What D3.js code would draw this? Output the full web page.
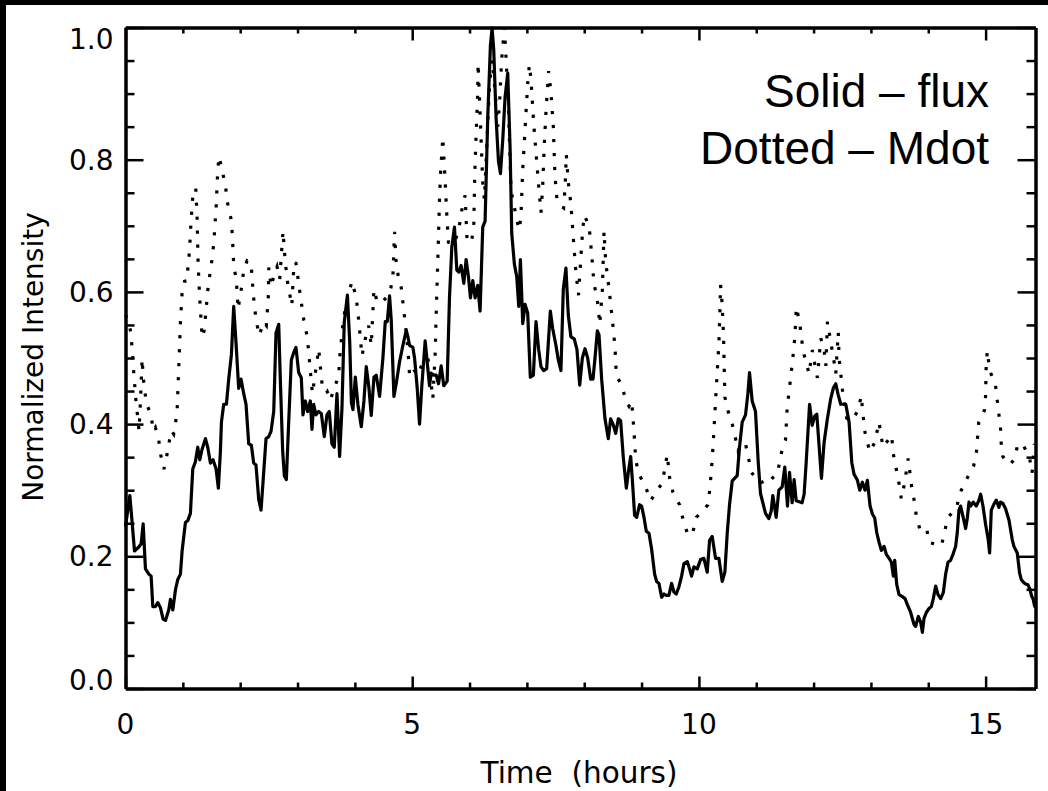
<!DOCTYPE html>
<html><head><meta charset="utf-8">
<script src="https://cdn.jsdelivr.net/npm/d3@7"></script>
<style>html,body{margin:0;padding:0;background:#fff;overflow:hidden}svg{display:block}</style>
</head><body>
<svg id="c" width="1048" height="791"></svg>
<script>
// ---- data ----
const fluxTime = [0.00,0.075,0.116,0.157,0.232,0.273,0.308,0.348,0.407,0.447,0.476,0.523,0.563,0.610,0.656,0.697,0.755,0.784,0.825,0.871,0.912,0.958,0.987,1.045,1.086,1.132,1.173,1.219,1.260,1.295,1.336,1.394,1.434,1.481,1.527,1.580,1.620,1.655,1.673,1.713,1.760,1.800,1.847,1.887,1.928,1.974,2.015,2.062,2.102,2.149,2.195,2.236,2.276,2.323,2.364,2.410,2.451,2.497,2.538,2.585,2.625,2.672,2.700,2.741,2.770,2.805,2.846,2.892,2.933,2.973,3.020,3.066,3.095,3.136,3.177,3.223,3.252,3.281,3.322,3.368,3.415,3.467,3.513,3.554,3.600,3.641,3.688,3.734,3.775,3.815,3.870,3.910,3.940,3.967,4.008,4.054,4.112,4.158,4.199,4.245,4.286,4.333,4.373,4.431,4.489,4.530,4.565,4.605,4.634,4.681,4.721,4.779,4.837,4.896,4.925,4.954,5.012,5.041,5.087,5.128,5.168,5.226,5.261,5.302,5.331,5.377,5.418,5.459,5.505,5.551,5.610,5.650,5.691,5.737,5.778,5.813,5.853,5.900,5.940,5.981,6.016,6.057,6.097,6.143,6.184,6.230,6.271,6.317,6.364,6.393,6.422,6.463,6.504,6.539,6.579,6.620,6.666,6.707,6.736,6.782,6.823,6.858,6.887,6.928,6.968,7.014,7.060,7.113,7.159,7.205,7.246,7.292,7.345,7.409,7.449,7.507,7.548,7.594,7.635,7.681,7.722,7.768,7.826,7.873,7.921,7.967,8.014,8.060,8.113,8.153,8.188,8.229,8.258,8.304,8.362,8.420,8.461,8.502,8.548,8.595,8.635,8.682,8.734,8.769,8.810,8.839,8.879,8.914,8.966,9.001,9.042,9.082,9.129,9.175,9.228,9.262,9.303,9.350,9.390,9.431,9.477,9.524,9.564,9.605,9.652,9.698,9.739,9.797,9.837,9.872,9.913,9.971,10.029,10.087,10.145,10.186,10.232,10.290,10.348,10.407,10.453,10.494,10.534,10.581,10.668,10.708,10.755,10.813,10.854,10.883,10.929,10.987,11.034,11.074,11.115,11.161,11.220,11.260,11.289,11.347,11.394,11.452,11.498,11.545,11.580,11.626,11.661,11.696,11.800,11.835,11.870,11.930,11.975,12.020,12.056,12.096,12.137,12.184,12.242,12.300,12.346,12.387,12.427,12.474,12.561,12.619,12.666,12.706,12.764,12.805,12.851,12.898,12.938,12.985,13.026,13.066,13.101,13.142,13.182,13.229,13.269,13.316,13.357,13.391,13.415,13.449,13.490,13.548,13.595,13.635,13.693,13.751,13.780,13.827,13.868,13.897,13.926,13.966,14.013,14.053,14.088,14.129,14.170,14.216,14.262,14.303,14.344,14.390,14.431,14.477,14.506,14.535,14.564,14.611,14.652,14.681,14.710,14.739,14.785,14.837,14.884,14.913,14.954,15.000,15.046,15.070,15.099,15.145,15.186,15.232,15.261,15.302,15.348,15.407,15.465,15.494,15.552,15.592,15.621,15.668,15.697,15.738,15.773,15.802,15.830,15.853,15.871];
const fluxValue = [0.245,0.292,0.251,0.208,0.214,0.219,0.249,0.181,0.173,0.170,0.124,0.124,0.130,0.122,0.105,0.103,0.119,0.135,0.119,0.149,0.165,0.173,0.208,0.251,0.254,0.265,0.332,0.343,0.365,0.346,0.362,0.378,0.365,0.341,0.346,0.332,0.303,0.359,0.403,0.430,0.430,0.468,0.505,0.578,0.522,0.454,0.468,0.446,0.430,0.370,0.368,0.341,0.338,0.286,0.270,0.327,0.378,0.381,0.389,0.419,0.538,0.551,0.468,0.359,0.322,0.316,0.403,0.497,0.508,0.516,0.478,0.470,0.414,0.435,0.419,0.435,0.392,0.430,0.414,0.419,0.416,0.381,0.414,0.419,0.370,0.365,0.446,0.351,0.424,0.554,0.595,0.525,0.432,0.422,0.471,0.429,0.396,0.435,0.487,0.455,0.413,0.471,0.474,0.442,0.500,0.555,0.555,0.594,0.558,0.442,0.461,0.494,0.519,0.542,0.532,0.519,0.516,0.500,0.455,0.400,0.458,0.526,0.494,0.458,0.477,0.474,0.474,0.461,0.488,0.458,0.465,0.591,0.668,0.698,0.633,0.630,0.640,0.613,0.649,0.623,0.591,0.617,0.591,0.610,0.571,0.698,0.707,0.863,0.973,0.999,0.966,0.863,0.798,0.779,0.830,0.895,0.931,0.818,0.688,0.642,0.623,0.578,0.649,0.552,0.581,0.568,0.471,0.474,0.555,0.513,0.487,0.481,0.484,0.571,0.545,0.519,0.497,0.481,0.604,0.636,0.565,0.532,0.529,0.513,0.459,0.500,0.514,0.500,0.468,0.468,0.500,0.541,0.535,0.468,0.408,0.378,0.408,0.400,0.386,0.408,0.405,0.349,0.303,0.327,0.351,0.316,0.262,0.259,0.278,0.276,0.259,0.238,0.235,0.211,0.173,0.162,0.159,0.138,0.143,0.141,0.141,0.159,0.146,0.143,0.154,0.170,0.189,0.192,0.181,0.170,0.184,0.181,0.195,0.197,0.176,0.224,0.230,0.197,0.197,0.162,0.176,0.235,0.278,0.314,0.322,0.365,0.403,0.414,0.446,0.478,0.435,0.419,0.343,0.295,0.281,0.265,0.257,0.268,0.292,0.259,0.300,0.305,0.335,0.276,0.327,0.281,0.316,0.284,0.281,0.294,0.341,0.430,0.398,0.412,0.415,0.367,0.318,0.373,0.409,0.439,0.455,0.461,0.445,0.430,0.430,0.403,0.342,0.324,0.315,0.300,0.312,0.300,0.315,0.276,0.264,0.258,0.236,0.221,0.209,0.215,0.203,0.197,0.191,0.170,0.194,0.158,0.142,0.139,0.136,0.127,0.115,0.097,0.094,0.109,0.100,0.085,0.106,0.115,0.121,0.124,0.136,0.155,0.142,0.136,0.145,0.173,0.191,0.194,0.203,0.215,0.236,0.270,0.276,0.258,0.242,0.258,0.282,0.276,0.282,0.276,0.285,0.294,0.276,0.248,0.225,0.205,0.270,0.279,0.285,0.274,0.282,0.280,0.272,0.255,0.225,0.215,0.205,0.175,0.165,0.160,0.158,0.157,0.150,0.140,0.135,0.125,0.122];

const mdotTime = [0.00,0.05,0.09,0.12,0.145,0.186,0.22,0.235,0.26,0.29,0.31,0.36,0.45,0.48,0.52,0.58,0.61,0.67,0.71,0.755,0.80,0.84,0.87,0.90,0.92,0.94,0.958,0.987,1.03,1.075,1.09,1.115,1.144,1.179,1.225,1.249,1.267,1.29,1.32,1.336,1.37,1.394,1.44,1.51,1.539,1.58,1.609,1.632,1.684,1.742,1.771,1.818,1.847,1.864,1.887,1.934,1.963,2.03,2.06,2.12,2.19,2.225,2.25,2.28,2.33,2.41,2.456,2.49,2.50,2.538,2.596,2.643,2.689,2.747,2.776,2.817,2.857,2.90,2.94,2.974,3.04,3.11,3.165,3.19,3.235,3.26,3.30,3.37,3.415,3.44,3.51,3.57,3.63,3.72,3.73,3.80,3.89,3.95,3.967,4.025,4.066,4.124,4.182,4.240,4.286,4.333,4.391,4.460,4.547,4.623,4.663,4.692,4.716,4.762,4.808,4.855,4.896,4.936,4.954,5.012,5.099,5.186,5.273,5.331,5.360,5.400,5.418,5.447,5.476,5.493,5.534,5.575,5.609,5.633,5.737,5.824,5.882,5.923,5.958,6.039,6.074,6.091,6.114,6.143,6.149,6.190,6.230,6.259,6.30,6.34,6.387,6.433,6.492,6.521,6.561,6.608,6.637,6.677,6.724,6.770,6.828,6.869,6.898,6.927,6.956,6.985,7.014,7.043,7.072,7.118,7.159,7.200,7.246,7.275,7.304,7.339,7.380,7.420,7.461,7.490,7.525,7.594,7.641,7.670,7.687,7.722,7.768,7.815,7.855,7.90,7.94,7.97,8.00,8.084,8.130,8.171,8.211,8.246,8.269,8.315,8.345,8.374,8.432,8.490,8.537,8.560,8.664,8.722,8.780,8.827,8.868,8.897,8.955,9.071,9.158,9.274,9.361,9.448,9.489,9.547,9.663,9.721,9.797,9.884,9.954,10.029,10.157,10.192,10.232,10.261,10.290,10.319,10.348,10.366,10.377,10.406,10.430,10.441,10.453,10.511,10.581,10.639,10.685,10.726,10.813,10.871,10.918,11.016,11.074,11.150,11.220,11.289,11.365,11.405,11.452,11.510,11.539,11.597,11.638,11.673,11.70,11.76,11.79,11.83,11.88,11.92,11.98,12.038,12.067,12.125,12.184,12.213,12.242,12.300,12.358,12.387,12.43,12.445,12.503,12.578,12.66,12.78,12.83,12.89,12.98,13.07,13.14,13.21,13.36,13.39,13.49,13.53,13.59,13.65,13.71,13.76,13.79,13.85,13.97,14.01,14.23,14.29,14.34,14.49,14.55,14.63,14.72,14.79,14.84,14.88,14.98,15.00,15.01,15.03,15.07,15.17,15.20,15.23,15.26,15.27,15.30,15.37,15.43,15.51,15.56,15.66,15.77,15.81,15.85];
const mdotValue = [0.565,0.555,0.540,0.510,0.476,0.431,0.405,0.390,0.433,0.499,0.470,0.433,0.412,0.390,0.395,0.376,0.355,0.332,0.347,0.370,0.390,0.385,0.400,0.420,0.466,0.511,0.554,0.598,0.616,0.617,0.640,0.660,0.708,0.751,0.757,0.711,0.642,0.597,0.554,0.531,0.541,0.562,0.607,0.650,0.673,0.727,0.784,0.805,0.784,0.762,0.738,0.719,0.708,0.684,0.641,0.617,0.574,0.610,0.632,0.647,0.644,0.600,0.577,0.557,0.534,0.554,0.549,0.592,0.637,0.608,0.627,0.638,0.619,0.692,0.657,0.619,0.600,0.579,0.645,0.643,0.600,0.557,0.534,0.514,0.469,0.446,0.471,0.514,0.471,0.451,0.451,0.436,0.451,0.474,0.496,0.560,0.597,0.616,0.610,0.591,0.558,0.503,0.529,0.549,0.519,0.604,0.584,0.584,0.591,0.604,0.623,0.691,0.649,0.620,0.607,0.571,0.539,0.500,0.474,0.484,0.474,0.494,0.500,0.461,0.438,0.506,0.565,0.649,0.740,0.778,0.834,0.766,0.707,0.675,0.672,0.701,0.733,0.746,0.675,0.678,0.704,0.778,0.837,0.902,0.946,0.856,0.766,0.740,0.820,0.900,0.951,0.915,0.850,0.882,0.953,0.999,0.953,0.882,0.753,0.733,0.707,0.694,0.717,0.785,0.827,0.872,0.915,0.944,0.921,0.856,0.811,0.766,0.720,0.759,0.824,0.882,0.934,0.902,0.850,0.775,0.740,0.730,0.727,0.766,0.808,0.766,0.733,0.675,0.630,0.595,0.650,0.690,0.716,0.700,0.657,0.611,0.597,0.576,0.551,0.600,0.692,0.646,0.605,0.559,0.516,0.473,0.458,0.435,0.427,0.435,0.389,0.346,0.324,0.305,0.284,0.300,0.311,0.354,0.319,0.297,0.278,0.257,0.235,0.232,0.259,0.265,0.278,0.303,0.346,0.389,0.435,0.478,0.522,0.568,0.611,0.581,0.532,0.486,0.441,0.419,0.400,0.378,0.359,0.370,0.370,0.346,0.327,0.314,0.311,0.314,0.311,0.319,0.324,0.341,0.362,0.376,0.424,0.468,0.500,0.532,0.577,0.552,0.529,0.506,0.491,0.476,0.512,0.482,0.470,0.530,0.512,0.488,0.555,0.524,0.494,0.476,0.539,0.500,0.452,0.409,0.405,0.421,0.443,0.390,0.358,0.373,0.403,0.365,0.383,0.355,0.310,0.287,0.312,0.348,0.305,0.282,0.262,0.242,0.244,0.221,0.216,0.239,0.259,0.272,0.295,0.310,0.325,0.336,0.358,0.403,0.421,0.443,0.489,0.511,0.481,0.461,0.438,0.416,0.395,0.373,0.351,0.342,0.339,0.348,0.370,0.368,0.347,0.326,0.370];

const xMajorTicks = [0, 5, 10, 15];
const xTickLabels = ["0", "5", "10", "15"];
const xMinorTicks = [1,2,3,4,6,7,8,9,11,12,13,14];
const yMajorTicks = [0, 0.2, 0.4, 0.6, 0.8, 1.0];
const yTickLabels = ["0.0", "0.2", "0.4", "0.6", "0.8", "1.0"];
const yMinorTicks = [0.05,0.1,0.15,0.25,0.3,0.35,0.45,0.5,0.55,0.65,0.7,0.75,0.85,0.9,0.95];
const legendLines = ["Solid \u2013 flux", "Dotted \u2013 Mdot"];
const xTitle = "Time  (hours)";
const yTitle = "Normalized Intensity";

// ---- layout ----
const L = 125.5, R = 1035.5, T = 27.5, B = 688.5;
const svg = d3.select("#c");
svg.append("rect").attr("x",0).attr("y",0).attr("width",1048).attr("height",791).attr("fill","#fff");
// black edge strips of the reference
svg.append("rect").attr("x",0).attr("y",0).attr("width",1048).attr("height",5).attr("fill","#000");
svg.append("rect").attr("x",0).attr("y",0).attr("width",6).attr("height",791).attr("fill","#000");

const x = d3.scaleLinear().domain([0, 15.87]).range([L, R]);
const y = d3.scaleLinear().domain([0, 1]).range([B, T]);

const fluxData = fluxTime.map((t,i)=>[t, fluxValue[i]]);
const mdotData = mdotTime.map((t,i)=>[t, mdotValue[i]]);
const line = d3.line().x(d=>x(d[0])).y(d=>y(d[1]));

svg.append("path").datum(mdotData).attr("d", line)
  .attr("fill","none").attr("stroke","#000").attr("stroke-width",3.2)
  .attr("stroke-dasharray","3.2 10.8").attr("stroke-linejoin","miter");
svg.append("path").datum(fluxData).attr("d", line)
  .attr("fill","none").attr("stroke","#000").attr("stroke-width",3.2)
  .attr("stroke-linejoin","round");

// ---- axes (ticks inward) ----
function styleAxis(g){
  g.selectAll(".domain").attr("stroke","#000").attr("stroke-width",3);
  g.selectAll(".tick line").attr("stroke","#000").attr("stroke-width",2.5);
  g.selectAll(".tick text").remove();
}
function addAxis(gen, tx, ty){
  const g = svg.append("g").attr("transform",`translate(${tx},${ty})`).call(gen);
  styleAxis(g); return g;
}
// left
addAxis(d3.axisRight(y).tickValues(yMajorTicks).tickSizeInner(18).tickSizeOuter(0), L, 0);
addAxis(d3.axisRight(y).tickValues(yMinorTicks).tickSizeInner(9).tickSizeOuter(0), L, 0);
// right
addAxis(d3.axisLeft(y).tickValues(yMajorTicks).tickSizeInner(18).tickSizeOuter(0), R, 0);
addAxis(d3.axisLeft(y).tickValues(yMinorTicks).tickSizeInner(9).tickSizeOuter(0), R, 0);
// bottom
addAxis(d3.axisTop(x).tickValues(xMajorTicks).tickSizeInner(12).tickSizeOuter(0), 0, B);
addAxis(d3.axisTop(x).tickValues(xMinorTicks).tickSizeInner(6).tickSizeOuter(0), 0, B);
// top
addAxis(d3.axisBottom(x).tickValues(xMajorTicks).tickSizeInner(13).tickSizeOuter(0), 0, T);
addAxis(d3.axisBottom(x).tickValues(xMinorTicks).tickSizeInner(6).tickSizeOuter(0), 0, T);

// tick labels
const tickFont = "'DejaVu Sans', sans-serif";
svg.append("g").selectAll("text").data(yMajorTicks).join("text")
  .attr("x", L - 12)
  .attr("y", d => Math.min(Math.max(y(d), T + 11), B - 9) + 10)
  .attr("text-anchor","end").attr("font-family",tickFont).attr("font-size",28).attr("fill","#000")
  .text((d,i)=>yTickLabels[i]);
svg.append("g").selectAll("text").data(xMajorTicks).join("text")
  .attr("x", d => x(d)).attr("y", 734)
  .attr("text-anchor","middle").attr("font-family",tickFont).attr("font-size",28).attr("fill","#000")
  .text((d,i)=>xTickLabels[i]);

// titles
svg.append("text").attr("x", 579).attr("y", 783)
  .attr("text-anchor","middle").attr("font-family",tickFont).attr("font-size",29.5)
  .style("white-space","pre").attr("fill","#000").text(xTitle);
svg.append("text").attr("transform","translate(43,357) rotate(-90)")
  .attr("text-anchor","middle").attr("font-family",tickFont).attr("font-size",28)
  .attr("fill","#000").text(yTitle);

// legend text
svg.append("g").selectAll("text").data(legendLines).join("text")
  .attr("x", 989).attr("y", (d,i)=> 107 + i*57)
  .attr("text-anchor","end").attr("font-family","'Liberation Sans', Arial, sans-serif")
  .attr("font-size",46).attr("fill","#000").text(d=>d);
</script>
</body></html>
